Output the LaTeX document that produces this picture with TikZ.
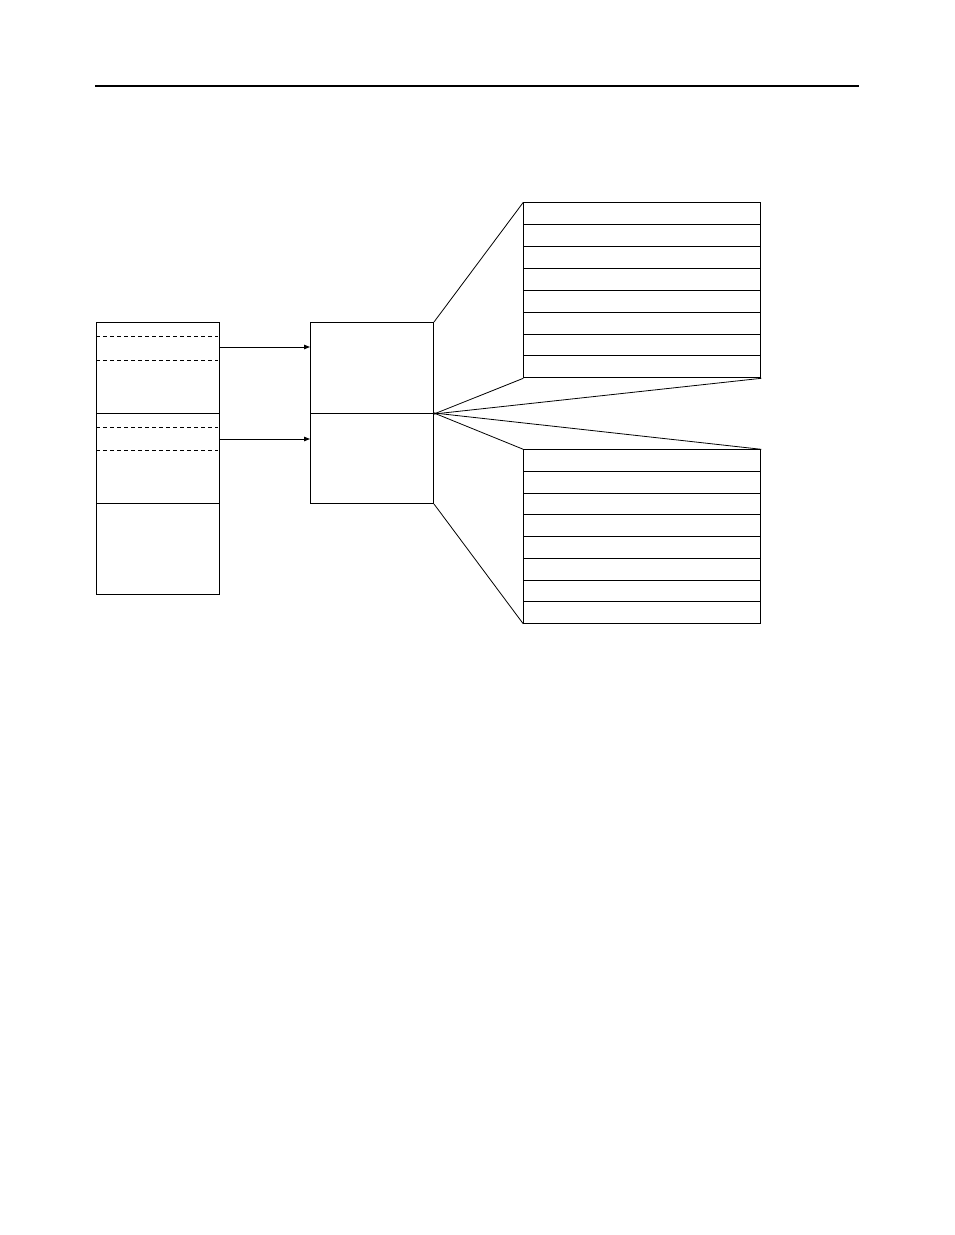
\documentclass[tikz,border=0pt]{standalone}
\usetikzlibrary{arrows.meta,calc}
\begin{document}
\begin{tikzpicture}[x=1pt,y=-1pt,
  box/.style={draw,line width=1pt,inner sep=0pt,anchor=north west,minimum width=123pt},
  row/.style={draw,line width=1pt,inner sep=0pt,anchor=north west,minimum width=237pt,minimum height=#1},
  link/.style={line width=0.8pt},
  arr/.style={line width=1pt,-{Triangle[length=6pt,width=4.5pt]}},
  dashline/.style={line width=1pt,dash pattern=on 4pt off 3pt}]
\useasboundingbox (0,0) rectangle (954,1235);
% top rule
\coordinate (r1) at (95,86);
\coordinate (r2) at (859,86);
\draw[line width=1.2pt] (r1) -- (r2);
% left stack
\node[box,minimum height=91pt] (L1) at (96,322) {};
\node[box,minimum height=90pt] (L2) at (96,413) {};
\node[box,minimum height=91pt] (L3) at (96,503) {};
\draw[dashline] ($(L1.north west)+(0,14)$) -- ($(L1.north east)+(-2,14)$);
\draw[dashline] ($(L1.north west)+(0,38)$) -- ($(L1.north east)+(-2,38)$);
\draw[dashline] ($(L2.north west)+(0,14)$) -- ($(L2.north east)+(-2,14)$);
\draw[dashline] ($(L2.north west)+(0,37)$) -- ($(L2.north east)+(-2,37)$);
% middle
\node[box,minimum height=91pt] (M1) at (310,322) {};
\node[box,minimum height=90pt] (M2) at (310,413) {};
% arrows
\coordinate (a1) at (0,347);
\coordinate (a2) at (0,439);
\draw[arr] (L1.east |- a1) -- (M1.west |- a1);
\draw[arr] (L2.east |- a2) -- (M2.west |- a2);
% tables
\foreach \i in {1,...,8} {
  \node[row=21.875pt] (u\i) at (523.3,{202.3+21.875*(\i-1)}) {};
  \node[row=21.7pt] (l\i) at (523.3,{449.3+21.7*(\i-1)}) {};
}
% fan lines
\draw[link] (M1.north east) -- (u1.north west);
\draw[link] (M1.south east) -- (u8.south west);
\draw[link] (M1.south east) -- (u8.south east);
\draw[link] (M2.north east) -- (l1.north west);
\draw[link] (M2.north east) -- (l1.north east);
\draw[link] (M2.south east) -- (l8.south west);
\end{tikzpicture}
\end{document}
